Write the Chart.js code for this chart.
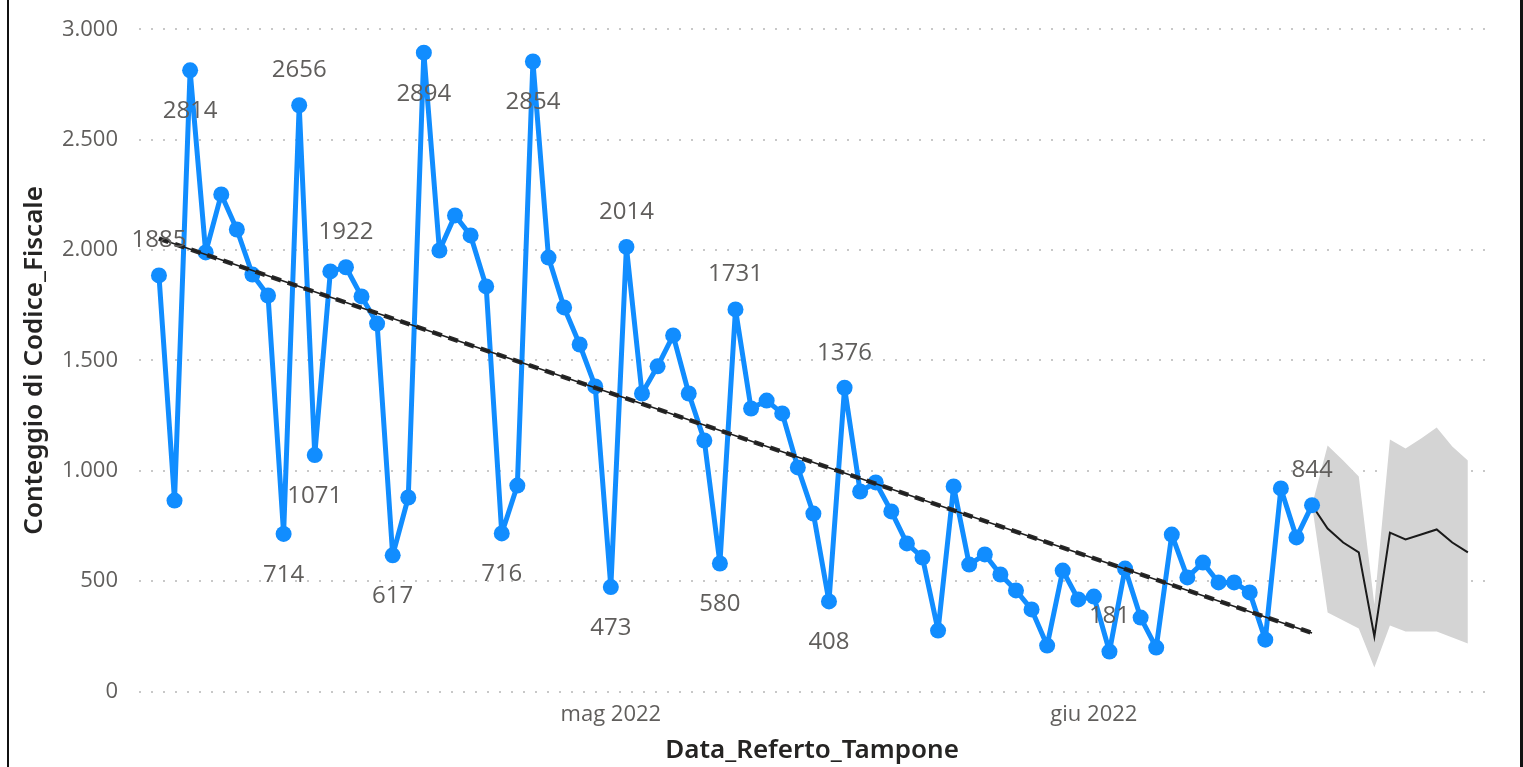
<!DOCTYPE html>
<html><head><meta charset="utf-8">
<script src="https://cdn.jsdelivr.net/npm/chart.js@4/dist/chart.umd.min.js"></script>
<style>
html,body{margin:0;padding:0;background:#fff;overflow:hidden;}
#wrap{position:relative;width:1523px;height:767px;}
#frameL{position:absolute;left:7px;top:0;width:2px;height:767px;background:#111;}
#frameR{position:absolute;left:1520px;top:0;width:3px;height:767px;background:#111;}
canvas{display:block;}
</style></head><body>
<div id="wrap"><canvas id="c" width="1523" height="767"></canvas><div id="frameL"></div><div id="frameR"></div></div>
<script>
// ---- data ----
const startDate = [2022, 3, 2]; // 2 Apr 2022 (month 0-based)
const actual = [1885, 865, 2814, 1989, 2252, 2093, 1889, 1794, 714, 2656, 1071, 1903, 1922, 1790, 1667, 617, 879, 2894, 1998, 2157, 2066, 1835, 716, 933, 2854, 1966, 1740, 1572, 1382, 473, 2014, 1350, 1473, 1613, 1350, 1137, 580, 1731, 1282, 1318, 1260, 1015, 806, 408, 1376, 906, 947, 816, 671, 607, 276, 929, 575, 621, 530, 458, 372, 208, 548, 417, 430, 181, 557, 335, 199, 711, 517, 584, 494, 494, 449, 235, 920, 698, 844];
const forecast = [844, 738, 675, 630, 249, 720, 689, 711, 734, 675, 630];
const forecastUpper = [844, 1114, 1047, 974, 394, 1142, 1101, 1146, 1196, 1110, 1047];
const forecastLower = [844, 358, 322, 285, 109, 299, 272, 272, 272, 245, 217];
const trendEnds = [2052, 265];
const monthNames = ['gen','feb','mar','apr','mag','giu','lug','ago','set','ott','nov','dic'];
const yTickValues = [0, 500, 1000, 1500, 2000, 2500, 3000];
const labelledPoints = [[0,'above'],[2,'below'],[8,'below'],[9,'above'],[10,'below'],[12,'above'],[15,'below'],[17,'below'],[22,'below'],[24,'below'],[29,'below'],[30,'above'],[36,'below'],[37,'above'],[43,'below'],[44,'above'],[61,'above'],[74,'above']];

// ---- derived ----
const nTotal = actual.length + forecast.length - 1;
const dates = [];
for (let i = 0; i < nTotal; i++) dates.push(new Date(startDate[0], startDate[1], startDate[2] + i));
const monthTickIdx = [];
dates.forEach((d, i) => { if (d.getDate() === 1) monthTickIdx.push(i); });
const lastIdx = actual.length - 1;
const actualPts = actual.map((v, i) => ({x: i, y: v}));
const fcPts = forecast.map((v, i) => ({x: lastIdx + i, y: v}));
const upPts = forecastUpper.map((v, i) => ({x: lastIdx + i, y: v}));
const loPts = forecastLower.map((v, i) => ({x: lastIdx + i, y: v}));
const trendPts = [{x: 0, y: trendEnds[0]}, {x: lastIdx, y: trendEnds[1]}];

const fmt = v => String(v).replace(/\B(?=(\d{3})+(?!\d))/g, '.');
const TXT = '#605E5C', TITLE = '#252423';
let xAxisHeight = 76;

const labelPlugin = {
  id: 'ptLabels',
  afterDatasetsDraw(chart) {
    const meta = chart.getDatasetMeta(2);
    const ctx = chart.ctx;
    ctx.save();
    ctx.font = '24px "Open Sans"';
    ctx.fillStyle = TXT;
    ctx.textAlign = 'center';
    ctx.textBaseline = 'middle';
    labelledPoints.forEach(([i, pos]) => {
      const el = meta.data[i];
      const dy = pos === 'above' ? -35 : 41;
      ctx.fillText(String(actual[i]), el.x, el.y + dy);
    });
    ctx.restore();
  }
};

const chart = new Chart(document.getElementById('c'), {
  type: 'line',
  data: {
    datasets: [
      {data: trendPts, borderColor: '#1e1e1e', borderWidth: 1.5, pointRadius: 0, order: 0, fill: false},
      {data: trendPts, borderColor: '#2a2a2a', borderWidth: 4.5, borderDash: [10, 7], pointRadius: 0, order: 0, fill: false},
      {data: actualPts, borderColor: '#118DFF', backgroundColor: '#118DFF', borderWidth: 5, borderJoinStyle: 'round', borderCapStyle: 'round', pointRadius: 8, pointBorderWidth: 0, pointBackgroundColor: '#118DFF', order: 1, fill: false},
      {data: fcPts, borderColor: '#1a1a1a', borderWidth: 2, pointRadius: 0, order: 2, fill: false},
      {data: upPts, borderColor: 'rgba(0,0,0,0)', borderWidth: 0, pointRadius: 0, backgroundColor: '#D4D4D4', fill: '+1', order: 3},
      {data: loPts, borderColor: 'rgba(0,0,0,0)', borderWidth: 0, pointRadius: 0, fill: false, order: 3}
    ]
  },
  options: {
    responsive: false,
    animation: false,
    devicePixelRatio: 1,
    layout: {padding: {top: 29, right: 38, bottom: 0, left: 0}},
    plugins: {legend: {display: false}, tooltip: {enabled: false}},
    elements: {line: {tension: 0}},
    scales: {
      x: {
        type: 'linear', min: -1.28, max: nTotal - 1 + 1.1,
        grid: {display: false, drawTicks: false},
        border: {display: false},
        afterBuildTicks: s => { s.ticks = monthTickIdx.map(v => ({value: v})); },
        afterFit: s => { s.height = xAxisHeight; },
        ticks: {
          autoSkip: false, maxRotation: 0, padding: 10, color: TXT,
          font: {family: 'Open Sans', size: 22},
          callback: v => { const d = dates[v]; return d ? monthNames[d.getMonth()] + ' ' + d.getFullYear() : ''; }
        },
        title: {display: true, text: 'Data_Referto_Tampone', color: TITLE, font: {family: 'Noto Sans', size: 26, weight: '600'}, padding: {top: 0, bottom: 1}}
      },
      y: {
        min: 0, max: 3000,
        afterBuildTicks: s => { s.ticks = yTickValues.map(v => ({value: v})); },
        afterFit: s => { s.width = 139; },
        grid: {color: '#C8C8C8', lineWidth: 2, drawTicks: true, tickLength: 21, tickColor: 'rgba(0,0,0,0)'},
        border: {display: false, dash: [2, 10]},
        ticks: {padding: 0, color: TXT, font: {family: 'Open Sans', size: 22}, callback: v => fmt(v)},
        title: {display: true, text: 'Conteggio di Codice_Fiscale', color: TITLE, font: {family: 'Noto Sans', size: 26, weight: '600'}, padding: {top: 19, bottom: 0}}
      }
    }
  },
  plugins: [labelPlugin]
});

// align plot area to reference
for (let k = 0; k < 3; k++) {
  const a = chart.chartArea, p = chart.config.options.layout.padding;
  p.top += 29.3 - a.top;
  p.right += a.right - 1485;
  xAxisHeight += a.bottom - 691.5;
  chart.update('none');
}
</script>
</body></html>
